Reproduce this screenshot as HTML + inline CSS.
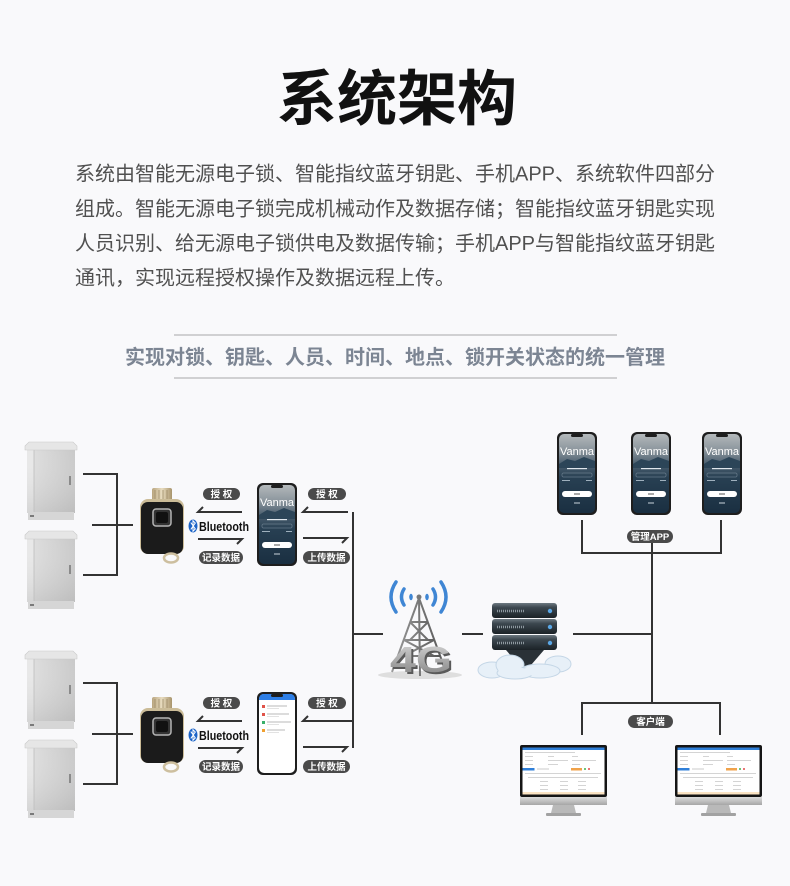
<!DOCTYPE html>
<html><head><meta charset="utf-8"><style>
html,body{margin:0;padding:0;background:#f9f9fb;}
body{width:790px;height:886px;overflow:hidden;}
svg{display:block;}
text{font-family:"Liberation Sans","Noto Sans CJK SC",sans-serif;}
</style></head><body>
<svg width="790" height="886" viewBox="0 0 790 886" xmlns="http://www.w3.org/2000/svg">
<defs>
<linearGradient id="gCab" x1="0" y1="0" x2="1" y2="0"><stop offset="0" stop-color="#e0e0e0"/><stop offset="1" stop-color="#c9c9c9"/></linearGradient>
<linearGradient id="gCabV" x1="0" y1="0" x2="0" y2="1"><stop offset="0" stop-color="#ffffff" stop-opacity="0"/><stop offset="1" stop-color="#9a9a9a" stop-opacity="0.25"/></linearGradient>
<linearGradient id="gGold" x1="0" y1="0" x2="1" y2="0"><stop offset="0" stop-color="#b9a57f"/><stop offset="0.5" stop-color="#e8dcc0"/><stop offset="1" stop-color="#a8946c"/></linearGradient>
<linearGradient id="gScr" x1="0" y1="0" x2="0" y2="1"><stop offset="0" stop-color="#b4b9bc"/><stop offset="0.2" stop-color="#8c969d"/><stop offset="0.38" stop-color="#4b5f6f"/><stop offset="0.55" stop-color="#284053"/><stop offset="1" stop-color="#1a2f41"/></linearGradient>
<linearGradient id="gSil" x1="0" y1="0" x2="0" y2="1"><stop offset="0" stop-color="#dcdcdc"/><stop offset="1" stop-color="#a6a6a6"/></linearGradient>
<linearGradient id="gSlab" x1="0" y1="0" x2="0" y2="1"><stop offset="0" stop-color="#6d7981"/><stop offset="0.3" stop-color="#3c474f"/><stop offset="1" stop-color="#1b2227"/></linearGradient>
<linearGradient id="g4G" x1="0" y1="0" x2="0" y2="1"><stop offset="0" stop-color="#d9d9d9"/><stop offset="1" stop-color="#7e7e7e"/></linearGradient>
<linearGradient id="gTow" x1="0" y1="0" x2="1" y2="0"><stop offset="0" stop-color="#9a9a9a"/><stop offset="1" stop-color="#555"/></linearGradient>

<g id="cab">
 <rect x="2" y="7" width="48" height="64" fill="url(#gCab)"/>
 <rect x="2" y="7" width="7" height="64" fill="#e8e8e8"/>
 <rect x="2" y="7" width="48" height="64" fill="url(#gCabV)"/>
 <line x1="9" y1="8" x2="9" y2="70" stroke="#bdbdbd" stroke-width="0.8"/>
 <polygon points="0,4 4,0 48,0 52,4 52,8 0,8" fill="#e6e6e6" stroke="#cacaca" stroke-width="0.6"/>
 <rect x="44" y="34" width="2" height="9" fill="#8a8a8a"/>
 <rect x="3" y="70" width="46" height="8" fill="#d6d6d6"/>
 <rect x="5" y="73" width="4" height="2" fill="#7a7a7a"/>
</g>

<g id="lock">
 <rect x="12" y="0" width="20" height="14" rx="2" fill="url(#gGold)"/>
 <path d="M15,2V12M19,2V12M23,2V12M27,2V12" stroke="#9c8a66" stroke-width="0.8"/>
 <rect x="0" y="11" width="44" height="55" rx="8" fill="#cbbc98"/>
 <rect x="1" y="14" width="42" height="52" rx="7" fill="#1b1b1b"/>
 <rect x="13" y="21" width="18" height="17" rx="3" fill="#333" stroke="#b5b5b5" stroke-width="1.5"/>
 <rect x="16" y="24" width="12" height="11" rx="2" fill="#111"/>
 <ellipse cx="31" cy="70" rx="7" ry="4.5" fill="none" stroke="#cdbf9f" stroke-width="2.5"/>
</g>

<g id="phoneD">
 <rect x="0" y="0" width="40" height="83" rx="6" fill="#1e1e1e"/>
 <rect x="2" y="2" width="36" height="79" rx="5" fill="url(#gScr)"/>
 <path d="M2,32 L10,27 L18,29 L27,25 L38,29 L38,36 L2,36Z" fill="#2c4558"/>
 <rect x="14" y="2" width="12" height="3" rx="1.5" fill="#1e1e1e"/>
 <text x="20" y="23" font-size="11" fill="#fff" text-anchor="middle">Vanma</text>
 <rect x="10" y="36" width="20" height="1.2" fill="#dfe6ec"/>
 <rect x="5" y="41" width="30" height="4" rx="1" fill="none" stroke="#8193a2" stroke-width="0.5"/>
 <rect x="5" y="48" width="8" height="1" fill="#9fb0bd"/>
 <rect x="29" y="48" width="6" height="1" fill="#9fb0bd"/>
 <rect x="5" y="59" width="30" height="6" rx="3" fill="#fff"/>
 <rect x="17" y="61.5" width="6" height="1" fill="#555"/>
 <rect x="17" y="70.5" width="6" height="1" fill="#c9d4dc"/>
</g>

<g id="mon">
 <rect x="0" y="0" width="87" height="52" rx="2" fill="#151515"/>
 <rect x="2.5" y="2.5" width="82" height="47" fill="#fff"/>
 <rect x="2.5" y="2.5" width="82" height="2.5" fill="#2f7fd8"/>
 <g fill="#c9c9c9">
  <rect x="5" y="7" width="50" height="0.8"/>
  <rect x="5" y="11" width="8" height="0.8"/><rect x="28" y="11" width="6" height="0.8"/><rect x="52" y="11" width="6" height="0.8"/>
  <rect x="5" y="15" width="8" height="0.8"/><rect x="28" y="15" width="20" height="0.8"/><rect x="52" y="15" width="24" height="0.8"/>
  <rect x="5" y="19" width="8" height="0.8"/><rect x="28" y="19" width="10" height="0.8"/><rect x="52" y="19" width="8" height="0.8"/>
  <rect x="5" y="28" width="76" height="0.8"/>
  <rect x="8" y="32" width="70" height="0.8"/>
  <rect x="20" y="36" width="8" height="0.8"/><rect x="40" y="36" width="8" height="0.8"/><rect x="58" y="36" width="8" height="0.8"/>
  <rect x="20" y="40" width="8" height="0.8"/><rect x="40" y="40" width="8" height="0.8"/><rect x="58" y="40" width="8" height="0.8"/>
  <rect x="20" y="44" width="8" height="0.8"/><rect x="40" y="44" width="8" height="0.8"/><rect x="58" y="44" width="8" height="0.8"/>
 </g>
 <rect x="2.5" y="23" width="12" height="2.5" fill="#2f7fd8"/>
 <rect x="17" y="23" width="12" height="2" fill="#e5e5e5"/>
 <rect x="51" y="23" width="11" height="2.5" fill="#f0a24a"/>
 <circle cx="65" cy="24" r="1" fill="#3fb34f"/>
 <circle cx="69" cy="24" r="1" fill="#e24b4b"/>
 <rect x="2.5" y="47" width="82" height="2.5" fill="#fbe4c4"/>
 <rect x="0" y="52" width="87" height="8" fill="url(#gSil)"/>
 <path d="M33,60H54L56,68H31Z" fill="#b9b9b9"/>
 <rect x="26" y="68" width="35" height="3" rx="1" fill="#a2a2a2"/>
</g>
</defs>

<rect width="790" height="886" fill="#f9f9fb"/>

<!-- Title -->
<text x="397" y="120" font-size="60" font-weight="bold" fill="#111" text-anchor="middle">系统架构</text>

<!-- Paragraph -->
<g font-size="20" fill="#505050">
 <text x="75" y="180.5">系统由智能无源电子锁、智能指纹蓝牙钥匙、手机APP、系统软件四部分</text>
 <text x="75" y="215.5">组成。智能无源电子锁完成机械动作及数据存储；智能指纹蓝牙钥匙实现</text>
 <text x="75" y="250">人员识别、给无源电子锁供电及数据传输；手机APP与智能指纹蓝牙钥匙</text>
 <text x="75" y="284.5">通讯，实现远程授权操作及数据远程上传。</text>
</g>

<!-- Subtitle -->
<line x1="174" y1="335" x2="617" y2="335" stroke="#a8a8a8" stroke-width="1"/>
<line x1="174" y1="378" x2="617" y2="378" stroke="#a8a8a8" stroke-width="1"/>
<text x="395" y="364" font-size="20" font-weight="bold" fill="#7c8593" text-anchor="middle">实现对锁、钥匙、人员、时间、地点、锁开关状态的统一管理</text>

<!-- Left groups (top and bottom) -->
<g id="leftGroup">
 <use href="#cab" x="25" y="442"/>
 <use href="#cab" x="25" y="531"/>
 <path d="M83,474H117V575H83M92,525H133" fill="none" stroke="#333" stroke-width="2"/>
 <use href="#lock" x="140" y="488"/>
 <rect x="203" y="488" width="37" height="12" rx="6" fill="#4a4a4a"/>
 <text x="221.5" y="497.5" font-size="9.5" font-weight="bold" fill="#fff" text-anchor="middle">授 权</text>
 <path d="M242,512H198L203,507" fill="none" stroke="#333" stroke-width="2"/>
 <ellipse cx="193" cy="526" rx="4.5" ry="6.5" fill="#1c64c8"/>
 <path d="M190.8,522.6L195.3,529L193,531.3V520.7L195.3,523L190.8,529.4" fill="none" stroke="#fff" stroke-width="1"/>
 <text x="199" y="531" font-size="13" font-weight="bold" fill="#111" textLength="50" lengthAdjust="spacingAndGlyphs" style="font-family:'Liberation Sans Narrow','Liberation Sans',sans-serif">Bluetooth</text>
 <path d="M198,539H242L237,544" fill="none" stroke="#333" stroke-width="2"/>
 <rect x="199" y="551" width="44" height="13" rx="6.5" fill="#4a4a4a"/>
 <text x="221" y="561" font-size="9.5" font-weight="bold" fill="#fff" text-anchor="middle">记录数据</text>
 <rect x="308" y="488" width="38" height="12" rx="6" fill="#4a4a4a"/>
 <text x="327" y="497.5" font-size="9.5" font-weight="bold" fill="#fff" text-anchor="middle">授 权</text>
 <rect x="303" y="551" width="47" height="13" rx="6.5" fill="#4a4a4a"/>
 <text x="326.5" y="561" font-size="9.5" font-weight="bold" fill="#fff" text-anchor="middle">上传数据</text>
</g>
<use href="#leftGroup" x="0" y="209"/>

<!-- phones left -->
<use href="#phoneD" x="257" y="483"/>
<g transform="translate(257,692)">
 <rect x="0" y="0" width="40" height="83" rx="6" fill="#1e1e1e"/>
 <rect x="2" y="2" width="36" height="79" rx="5" fill="#fff"/>
 <path d="M2,8 Q2,2 7,2 H33 Q38,2 38,8 Z" fill="#2d7ee6"/>
 <rect x="14" y="2" width="12" height="3" rx="1.5" fill="#1e1e1e"/>
 <rect x="5" y="13" width="3" height="3" fill="#e0534a"/><rect x="10" y="13.5" width="20" height="1" fill="#b8b8b8"/><rect x="10" y="16" width="12" height="0.7" fill="#d5d5d5"/>
 <rect x="5" y="21" width="3" height="3" fill="#e0534a"/><rect x="10" y="21.5" width="22" height="1" fill="#b8b8b8"/><rect x="10" y="24" width="12" height="0.7" fill="#d5d5d5"/>
 <rect x="5" y="29" width="3" height="3" fill="#39b06a"/><rect x="10" y="29.5" width="24" height="1" fill="#b8b8b8"/><rect x="10" y="32" width="12" height="0.7" fill="#d5d5d5"/>
 <rect x="5" y="37" width="3" height="3" fill="#f0a030"/><rect x="10" y="37.5" width="18" height="1" fill="#b8b8b8"/><rect x="10" y="40" width="12" height="0.7" fill="#d5d5d5"/>
</g>

<!-- right side arrows & trunk -->
<g fill="none" stroke="#333" stroke-width="2">
 <path d="M348,512H303L308,507"/>
 <path d="M303,538H347L342,543"/>
 <path d="M353,721H303L308,716"/>
 <path d="M303,747H347L342,752"/>
 <path d="M353,512V748"/>
 <path d="M353,634H383"/>
 <path d="M462,634H483"/>
 <path d="M573,634H652"/>
 <path d="M652,542V703"/>
 <path d="M582,520V553H721V520"/>
 <path d="M582,735V703H720V735"/>
</g>

<!-- 4G tower -->
<ellipse cx="420" cy="675" rx="42" ry="4" fill="#dedede"/>
<g fill="none" stroke="#3f86d4" stroke-width="3.5" stroke-linecap="round">
 <path d="M396,582Q386,597 396,612"/>
 <path d="M404,589Q399,597 404,605"/>
 <path d="M441,582Q451,597 441,612"/>
 <path d="M433,589Q438,597 433,605"/>
</g>
<ellipse cx="411" cy="597" rx="1.8" ry="3.2" fill="#3f86d4"/>
<ellipse cx="427" cy="597" rx="1.8" ry="3.2" fill="#3f86d4"/>
<g stroke="url(#gTow)" stroke-width="2" fill="none">
 <path d="M419,598L392,672M419,598L446,672M419,598L420,676"/>
 <path d="M410,622H428M404,640H434M398,656H440M410,622L428,640M428,622L410,640M404,640L434,656M434,640L404,656"/>
</g>
<circle cx="419" cy="597" r="2.5" fill="#777"/>
<text x="423" y="674" font-size="36" font-weight="bold" fill="#5a5a5a" text-anchor="middle" textLength="62" lengthAdjust="spacingAndGlyphs">4G</text>
<text x="421" y="672" font-size="36" font-weight="bold" fill="url(#g4G)" text-anchor="middle" textLength="62" lengthAdjust="spacingAndGlyphs">4G</text>

<!-- Server -->
<path d="M506,650H544L525,672Z" fill="#2a3137"/>
<g>
 <rect x="492" y="603" width="65" height="15" rx="3" fill="url(#gSlab)"/>
 <rect x="492" y="619" width="65" height="15" rx="3" fill="url(#gSlab)"/>
 <rect x="492" y="635" width="65" height="15" rx="3" fill="url(#gSlab)"/>
 <g stroke="#8d989f" stroke-width="2.5" stroke-dasharray="1 1">
  <path d="M497,611H525M497,627H525M497,643H525"/>
 </g>
 <circle cx="550" cy="611" r="2.2" fill="#5aa7e6"/>
 <circle cx="550" cy="627" r="2.2" fill="#5aa7e6"/>
 <circle cx="550" cy="643" r="2.2" fill="#5aa7e6"/>
</g>
<g fill="#e7f0f8" stroke="#c4d6e6" stroke-width="1">
 <ellipse cx="492" cy="670" rx="14" ry="8"/>
 <ellipse cx="510" cy="665" rx="14" ry="10"/>
 <ellipse cx="558" cy="664" rx="13" ry="8"/>
 <ellipse cx="540" cy="671" rx="20" ry="7"/>
 <ellipse cx="515" cy="673" rx="18" ry="6"/>
</g>
<g fill="#e7f0f8">
 <ellipse cx="510" cy="669" rx="12" ry="6"/>
 <ellipse cx="540" cy="671" rx="18" ry="5"/>
</g>

<!-- top phones -->
<use href="#phoneD" x="557" y="432"/>
<use href="#phoneD" x="631" y="432"/>
<use href="#phoneD" x="702" y="432"/>
<rect x="627" y="530" width="46" height="13" rx="6.5" fill="#4a4a4a"/>
<text x="650" y="540" font-size="9.5" font-weight="bold" fill="#fff" text-anchor="middle">管理APP</text>

<!-- client label -->
<rect x="628" y="715" width="45" height="13" rx="6.5" fill="#4a4a4a"/>
<text x="650.5" y="725" font-size="9.5" font-weight="bold" fill="#fff" text-anchor="middle">客户端</text>

<!-- monitors -->
<use href="#mon" x="520" y="745"/>
<use href="#mon" x="675" y="745"/>
</svg>
</body></html>
